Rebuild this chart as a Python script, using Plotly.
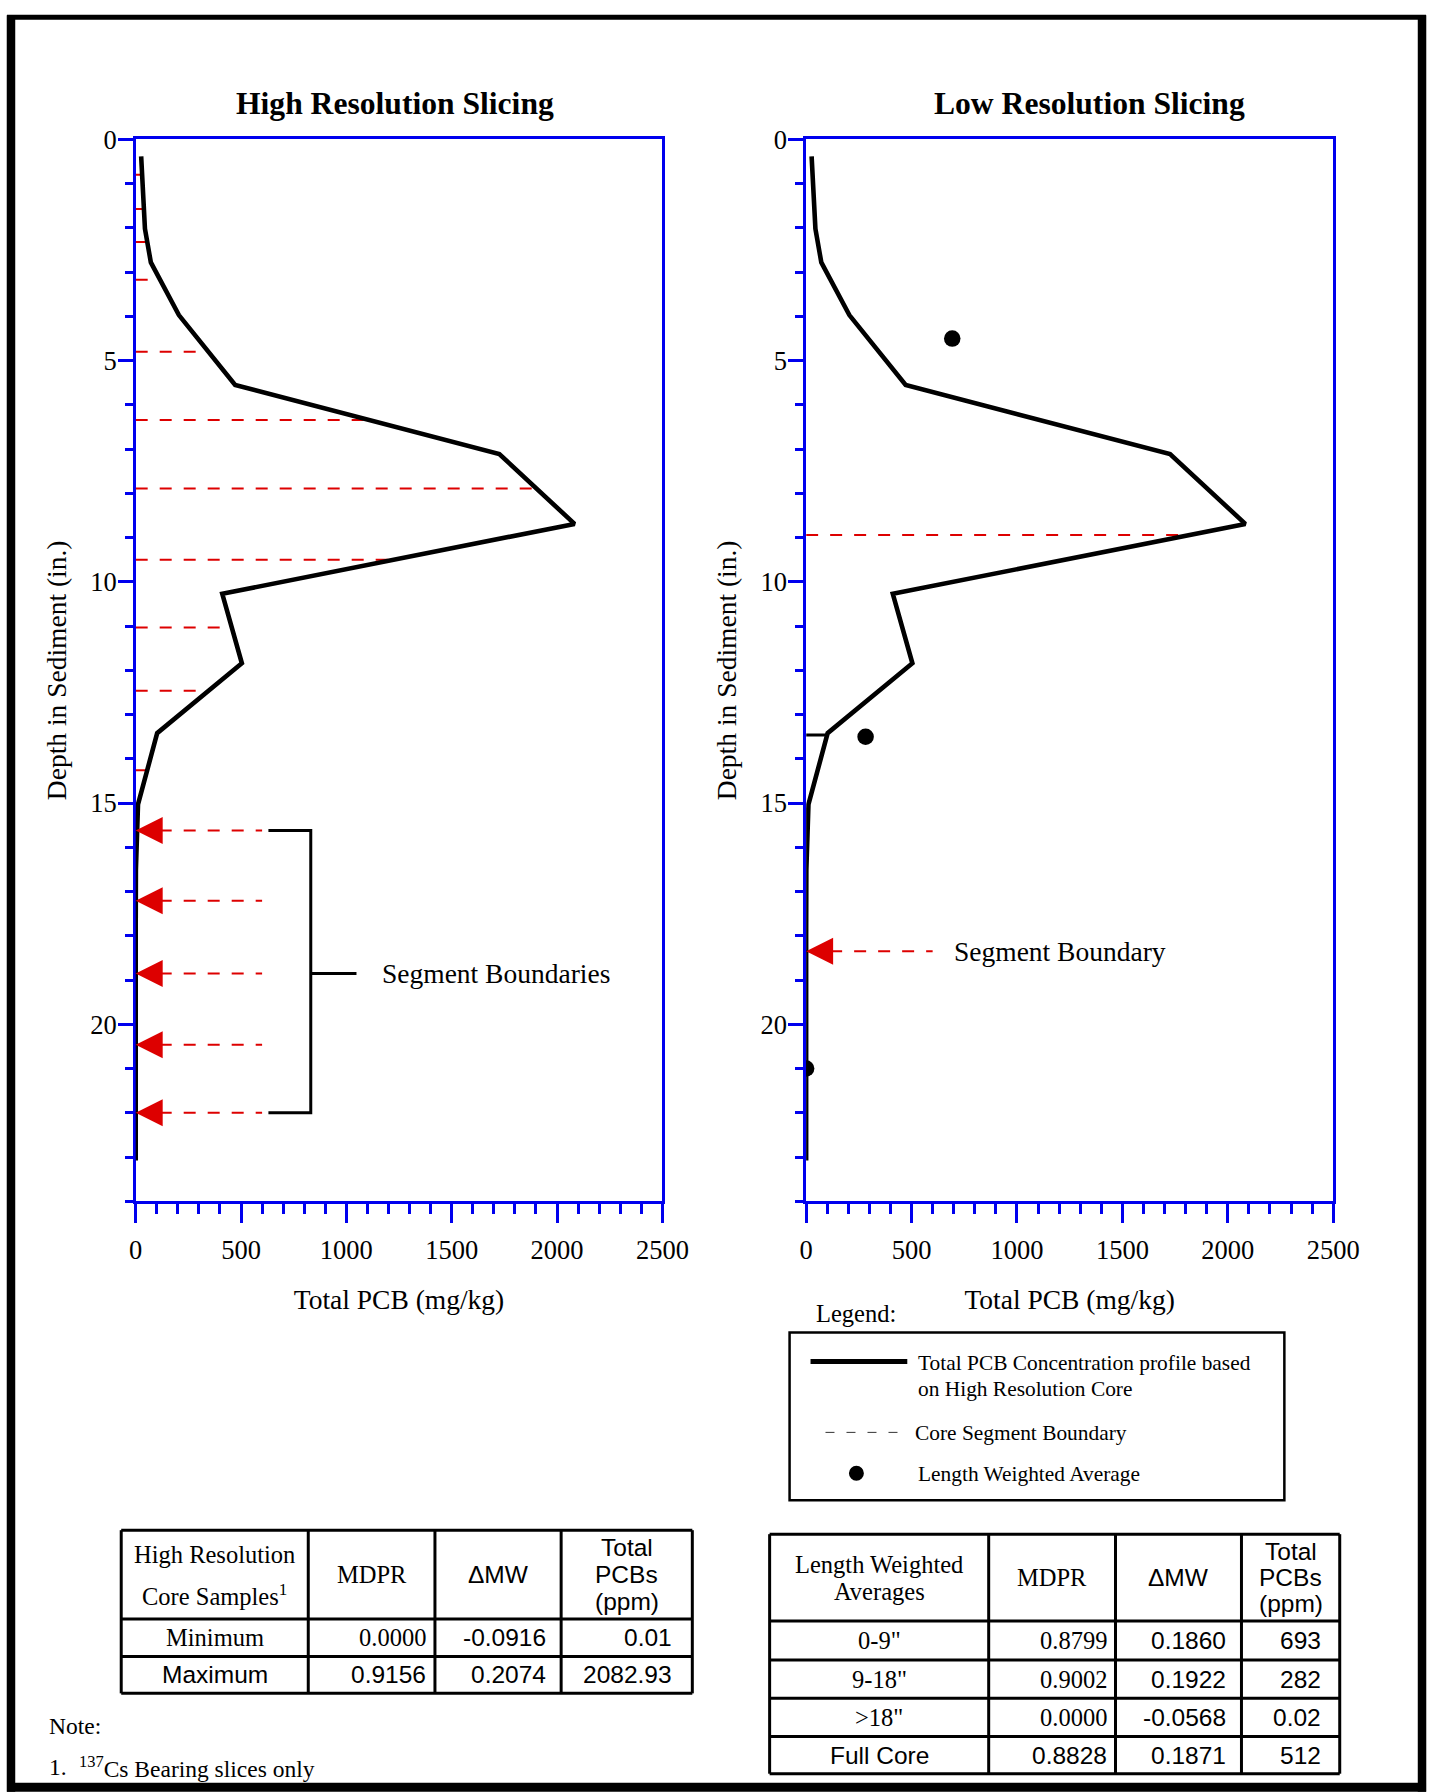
import numpy as np
import plotly.graph_objects as go

W, H = 1453, 1792

# placement of the printed page inside the final picture
AX, AY = 5.5, 11.8
SX, SY = 0.979, 0.9936

# Total PCB profile of the high resolution core (slice mid-depths, in.)
depth_in = [0.38, 1.18, 2.02, 2.78, 3.97, 5.55, 7.11, 8.69, 10.27, 11.84,
            13.42, 15.03, 16.50, 18.05, 19.66, 21.23, 23.08]
pcb_mgkg = [26, 34, 44, 72, 205, 472, 1726, 2083, 411, 504,
            102, 11, 1, 0.02, 0.01, 0.02, 0.01]

# High resolution slice boundaries (in.)
hr_boundaries = [0.80, 1.57, 2.32, 3.17, 4.80, 6.34, 7.89, 9.50, 11.03, 12.46, 14.26]
hr_arrow_depths = [15.62, 17.21, 18.85, 20.46, 22.00]

# Low resolution segment boundaries (in.)
lr_boundaries = [8.94]
lr_arrow_depth = 18.35
lr_black_mark = [13.46]

# Length weighted averages (segment mid-depth, total PCB)
lwa_depth = [4.5, 13.5, 21.0]
lwa_pcb = [693, 282, 0.02]

x_ticks = [0, 500, 1000, 1500, 2000, 2500]
y_ticks = [0, 5, 10, 15, 20]

# Summary tables
hr_header = ["High Resolution<br>Core Samples<sup>1</sup>", "MDPR", "ΔMW", "Total<br>PCBs<br>(ppm)"]
hr_rows = [["Minimum", "0.0000", "-0.0916", "0.01"],
           ["Maximum", "0.9156", "0.2074", "2082.93"]]
lw_header = ["Length Weighted<br>Averages", "MDPR", "ΔMW", "Total<br>PCBs<br>(ppm)"]
lw_rows = [["0-9\"", "0.8799", "0.1860", "693"],
           ["9-18\"", "0.9002", "0.1922", "282"],
           [">18\"", "0.0000", "-0.0568", "0.02"],
           ["Full Core", "0.8828", "0.1871", "512"]]

SERIF = "Liberation Serif"
SANS = "Liberation Sans"
BLUE = "#0000EE"
RED = "#DD0000"


def fs(size):
    return round(size * 1.02, 1)


def px(x):
    return (x - AX) / SX / W


def py(y):
    return 1 - (y - AY) / SY / H


fig = go.Figure()

panels = [("x", "y", hr_boundaries), ("x2", "y2", lr_boundaries)]
dash_line = dict(color=RED, width=2, dash="12px,12px")

# red dashed slice boundaries, running from the axis to the profile
for xa, ya, bnds in panels:
    ends = np.interp(bnds, depth_in, pcb_mgkg)
    xs, ys = [], []
    for d, e in zip(bnds, ends):
        xs += [0, e, None]
        ys += [d, d, None]
    fig.add_trace(go.Scatter(x=xs, y=ys, xaxis=xa, yaxis=ya, mode="lines",
                             line=dash_line, hoverinfo="skip", showlegend=False))

# dashed leaders for the segment boundary arrows
xs, ys = [], []
for d in hr_arrow_depths:
    xs += [0, 600, None]
    ys += [d, d, None]
fig.add_trace(go.Scatter(x=xs, y=ys, xaxis="x", yaxis="y", mode="lines",
                         line=dash_line, hoverinfo="skip", showlegend=False))
fig.add_trace(go.Scatter(x=[0, 600], y=[lr_arrow_depth] * 2, xaxis="x2", yaxis="y2",
                         mode="lines", line=dash_line, hoverinfo="skip", showlegend=False))

# bracket grouping the segment boundaries
top, mid, bot = hr_arrow_depths[0], hr_arrow_depths[2], hr_arrow_depths[-1]
fig.add_trace(go.Scatter(x=[630, 831, 831, 630, None, 831, 1048],
                         y=[top, top, bot, bot, None, mid, mid],
                         xaxis="x", yaxis="y", mode="lines",
                         line=dict(color="black", width=3),
                         hoverinfo="skip", showlegend=False))

# black mark in the low resolution panel
mark_end = np.interp(lr_black_mark, depth_in, pcb_mgkg)
fig.add_trace(go.Scatter(x=[0, mark_end[0]], y=lr_black_mark * 2, xaxis="x2", yaxis="y2",
                         mode="lines", line=dict(color="black", width=3),
                         hoverinfo="skip", showlegend=False))

# PCB profiles
for xa, ya, _ in panels:
    fig.add_trace(go.Scatter(x=pcb_mgkg, y=depth_in, xaxis=xa, yaxis=ya, mode="lines",
                             line=dict(color="black", width=4.6),
                             hoverinfo="skip", showlegend=False))

# length weighted averages
fig.add_trace(go.Scatter(x=lwa_pcb, y=lwa_depth, xaxis="x2", yaxis="y2", mode="markers",
                         marker=dict(color="black", size=16.5),
                         hoverinfo="skip", showlegend=False))

# arrow heads pointing at the core axis
arrow = dict(symbol="arrow-left", size=27, color=RED, line=dict(width=0))
fig.add_trace(go.Scatter(x=[0] * len(hr_arrow_depths), y=hr_arrow_depths,
                         xaxis="x", yaxis="y", mode="markers", marker=arrow,
                         cliponaxis=False, hoverinfo="skip", showlegend=False))
fig.add_trace(go.Scatter(x=[0], y=[lr_arrow_depth], xaxis="x2", yaxis="y2",
                         mode="markers", marker=arrow, cliponaxis=False,
                         hoverinfo="skip", showlegend=False))

annotations = []
annotations.append(dict(x=1162, y=mid, xref="x", yref="y", text="Segment Boundaries",
                        showarrow=False, xanchor="left", yanchor="middle",
                        font=dict(family=SERIF, size=fs(27), color="black")))
annotations.append(dict(x=693, y=lr_arrow_depth, xref="x2", yref="y2", text="Segment Boundary",
                        showarrow=False, xanchor="left", yanchor="middle",
                        font=dict(family=SERIF, size=fs(27), color="black")))


def text(x, y, s, size, family=SERIF, xanchor="center"):
    annotations.append(dict(x=px(x), y=py(y), xref="paper", yref="paper", text=s,
                            showarrow=False, xanchor=xanchor, yanchor="middle",
                            font=dict(family=family, size=fs(size), color="black")))


# panel titles
text(394, 100.5, "<b>High Resolution Slicing</b>", 31)
text(1091, 100.5, "<b>Low Resolution Slicing</b>", 31)

shapes = []


def line(x0, y0, x1, y1, width=3, color="black", dash="solid"):
    shapes.append(dict(type="line", xref="paper", yref="paper",
                       x0=px(x0), y0=py(y0), x1=px(x1), y1=py(y1),
                       line=dict(color=color, width=width, dash=dash)))


# outer frame
line(5.5, 14, 1428, 14, width=5)
line(9.5, 12, 9.5, 1792, width=8.5)
line(1424, 12, 1424, 1792, width=8.5)
line(5.5, 1787.5, 1428, 1787.5, width=9)

# legend
text(814, 1313, "Legend:", 24, xanchor="left")
shapes.append(dict(type="rect", xref="paper", yref="paper",
                   x0=px(790), x1=px(1286), y0=py(1332), y1=py(1500),
                   line=dict(color="black", width=2.5)))
line(811, 1361, 908, 1361, width=5)
text(917, 1362, "Total PCB Concentration profile based", 21, xanchor="left")
text(917, 1389, "on High Resolution Core", 21, xanchor="left")
line(826, 1432, 901, 1432, width=1, color="#333333", dash="9px,12px")
text(914, 1433, "Core Segment Boundary", 21, xanchor="left")
shapes.append(dict(type="circle", xref="paper", yref="paper",
                   x0=px(849.5), x1=px(864.5), y0=py(1465.5), y1=py(1480.5),
                   fillcolor="black", line=dict(color="black", width=0)))
text(917, 1474, "Length Weighted Average", 21, xanchor="left")


def draw_table(x_edges, y_edges, header, header_pitch, rows, row_fonts, pads, header_fonts):
    x0, x1 = x_edges[0], x_edges[-1]
    y0, y1 = y_edges[0], y_edges[-1]
    for xe in x_edges:
        line(xe, y0, xe, y1)
    for ye in y_edges:
        line(x0, ye, x1, ye)
    yc = (y_edges[0] + y_edges[1]) / 2
    for j, h in enumerate(header):
        parts = h.split("<br>")
        n = len(parts)
        xc = (x_edges[j] + x_edges[j + 1]) / 2
        fam = SERIF if header_fonts[j] == "serif" else SANS
        for k, part in enumerate(parts):
            text(xc, yc + (k - (n - 1) / 2) * header_pitch[j], part, 24, family=fam)
    for i, row in enumerate(rows):
        yr = (y_edges[i + 1] + y_edges[i + 2]) / 2
        for j, cell in enumerate(row):
            fam = SERIF if row_fonts[i][j] == "serif" else SANS
            if j == 0:
                text((x_edges[0] + x_edges[1]) / 2, yr, cell, 24, family=fam)
            else:
                text(x_edges[j + 1] - pads[j], yr, cell, 24, family=fam, xanchor="right")


draw_table([120, 307.5, 434.5, 561, 692.5], [1530, 1619, 1656.5, 1693.5],
           hr_header, [40, 0, 0, 27], hr_rows,
           [["serif", "serif", "sans", "sans"], ["sans", "sans", "sans", "sans"]],
           [0, 7, 13, 18], ["serif", "serif", "sans", "sans"])
draw_table([770, 989.6, 1116.7, 1243, 1341.5], [1534, 1621, 1660, 1698.3, 1736.7, 1774],
           lw_header, [27, 0, 0, 26], lw_rows,
           [["serif", "serif", "sans", "sans"]] * 3 + [["sans", "sans", "sans", "sans"]],
           [0, 6, 14, 17], ["serif", "serif", "sans", "sans"])

# note
text(46, 1726, "Note:", 23, xanchor="left")
text(46, 1767, "1.", 23, xanchor="left")
text(76, 1767, "<sup>137</sup>Cs Bearing slices only", 23, xanchor="left")

tickfont = dict(family=SERIF, size=fs(26), color="black")
titlefont = dict(family=SERIF, size=fs(27), color="black")
xcommon = dict(range=[0, 2500], tickmode="array", tickvals=x_ticks,
               ticks="outside", ticklen=19, tickwidth=2.5, tickcolor=BLUE,
               minor=dict(dtick=100, tick0=0, ticks="outside", ticklen=10,
                          tickwidth=2.5, tickcolor=BLUE),
               showline=True, linecolor=BLUE, linewidth=2.5, mirror=True,
               showgrid=False, zeroline=False, tickfont=tickfont,
               ticklabelstandoff=4, layer="below traces", fixedrange=True,
               title=dict(text="Total PCB (mg/kg)", font=titlefont, standoff=26))
ycommon = dict(range=[24, 0], tickmode="array", tickvals=y_ticks,
               ticks="outside", ticklen=15, tickwidth=2.5, tickcolor=BLUE,
               minor=dict(dtick=1, tick0=0, ticks="outside", ticklen=8,
                          tickwidth=2.5, tickcolor=BLUE),
               showline=True, linecolor=BLUE, linewidth=2.5, mirror=True,
               showgrid=False, zeroline=False, tickfont=tickfont,
               ticklabelstandoff=-4, layer="below traces", fixedrange=True,
               domain=[py(1200.4), py(136.5)],
               title=dict(text="Depth in Sediment (in.)", font=titlefont, standoff=16))

fig.update_layout(
    width=W, height=H,
    margin=dict(l=0, r=0, t=0, b=0),
    paper_bgcolor="white", plot_bgcolor="white",
    showlegend=False,
    xaxis=dict(xcommon, domain=[px(134.5), px(662.5)], anchor="y"),
    yaxis=dict(ycommon, anchor="x"),
    xaxis2=dict(xcommon, domain=[px(806.6), px(1335)], anchor="y2"),
    yaxis2=dict(ycommon, anchor="x2"),
    annotations=annotations,
    shapes=shapes,
)

fig.write_html("out.html")
